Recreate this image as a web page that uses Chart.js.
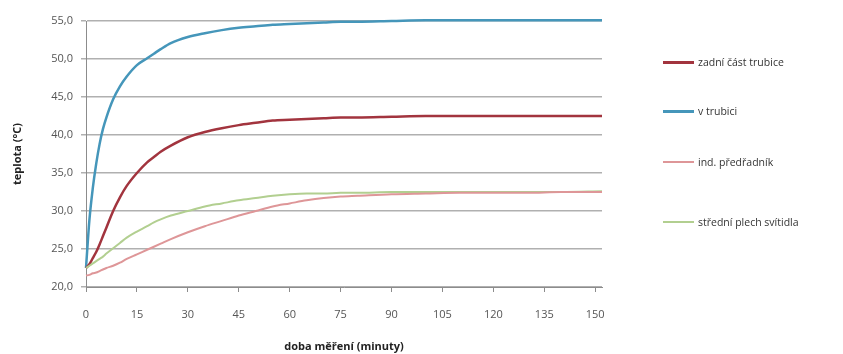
<!DOCTYPE html>
<html>
<head>
<meta charset="utf-8">
<script src="https://cdn.jsdelivr.net/npm/chart.js@4"></script>
<style>
  html, body { margin: 0; padding: 0; background: #fff; }
  #wrap { position: relative; width: 843px; height: 354px; }
  #legend { position: absolute; left: 663px; top: 0; font-family: "Open Sans", "DejaVu Sans", sans-serif; font-size: 10.5px; color: #333; }
  .item { position: absolute; left: 0; white-space: nowrap; display: flex; align-items: center; }
  .swatch { display: inline-block; width: 31px; margin-right: 4px; }
</style>
</head>
<body>
<div id="wrap">
  <canvas id="chart" width="843" height="354"></canvas>
  <div id="legend"></div>
</div>
<script>
// time of measurement, minutes
const minutes = [0, 1, 2, 3, 4, 5, 6, 8, 10, 12, 15, 18, 20, 22, 25, 30, 35, 40, 45, 50, 55, 60, 65, 70, 75, 80, 90, 100, 110, 120, 130, 140, 152];
const xTicks = [0, 15, 30, 45, 60, 75, 90, 105, 120, 135, 150];

const seriesNames = ["zadní část trubice", "v trubici", "ind. předřadník", "střední plech svítidla"];
const seriesColors = ["#a2343e", "#4596ba", "#de9698", "#b2cf90"];
const seriesWidths = [2.5, 2.5, 2, 2];

const backTube = [22.5, 23.0, 23.8, 24.6, 25.6, 26.7, 27.8, 30.0, 31.8, 33.3, 35.0, 36.4, 37.1, 37.8, 38.6, 39.7, 40.4, 40.9, 41.3, 41.6, 41.9, 42.0, 42.1, 42.2, 42.3, 42.3, 42.4, 42.5, 42.5, 42.5, 42.5, 42.5, 42.5];
const inTube = [22.5, 28.8, 33.0, 36.2, 38.8, 40.8, 42.3, 44.7, 46.4, 47.7, 49.2, 50.1, 50.7, 51.3, 52.1, 52.9, 53.4, 53.8, 54.1, 54.3, 54.5, 54.6, 54.7, 54.8, 54.9, 54.9, 55.0, 55.1, 55.1, 55.1, 55.1, 55.1, 55.1];
const ballast = [21.5, 21.6, 21.8, 21.9, 22.1, 22.3, 22.5, 22.8, 23.2, 23.7, 24.3, 24.9, 25.3, 25.7, 26.3, 27.2, 28.0, 28.7, 29.4, 30.0, 30.6, 31.0, 31.4, 31.7, 31.9, 32.0, 32.2, 32.3, 32.4, 32.4, 32.4, 32.5, 32.5];
const midPlate = [22.5, 22.8, 23.1, 23.4, 23.7, 24.0, 24.4, 25.1, 25.8, 26.5, 27.3, 28.0, 28.5, 28.9, 29.4, 30.0, 30.6, 31.0, 31.4, 31.7, 32.0, 32.2, 32.3, 32.3, 32.4, 32.4, 32.5, 32.5, 32.5, 32.5, 32.5, 32.5, 32.6];

const seriesValues = [backTube, inTube, ballast, midPlate];
const legendY = [62, 111, 162, 222];

const xTitle = "doba měření (minuty)";
const yTitle = "teplota (°C)";

const FONT = "'Open Sans', 'DejaVu Sans', sans-serif";

// draw order: pale lines first, then red and blue on top
const drawOrder = [2, 3, 0, 1];

const datasets = drawOrder.map((i) => ({
  label: seriesNames[i],
  data: minutes.map((m, k) => ({ x: m, y: seriesValues[i][k] })),
  borderColor: seriesColors[i],
  backgroundColor: seriesColors[i],
  borderWidth: seriesWidths[i],
  pointRadius: 0,
  cubicInterpolationMode: "monotone",
  clip: false,
}));

new Chart(document.getElementById("chart"), {
  type: "line",
  data: { datasets },
  options: {
    responsive: false,
    animation: false,
    layout: { padding: { top: 21, right: 241, left: 0, bottom: 0 } },
    plugins: { legend: { display: false }, tooltip: { enabled: false } },
    scales: {
      x: {
        type: "linear",
        min: 0,
        max: 152,
        // max 152 would replace the 150 tick, so set the ticks ourselves
        afterBuildTicks: (axis) => { axis.ticks = xTicks.map((v) => ({ value: v })); },
        afterFit: (scale) => { scale.height = 67; },
        ticks: { color: "#555", padding: 16, maxRotation: 0, autoSkip: false, font: { family: FONT, size: 11 } },
        grid: { drawOnChartArea: false, drawTicks: true, tickLength: 5, color: "#8c8c8c" },
        border: { color: "#8c8c8c", width: 1 },
        title: { display: true, text: xTitle, color: "#222", padding: { top: 0, bottom: 1 }, font: { family: FONT, size: 11, weight: "bold" } },
      },
      y: {
        min: 20,
        max: 55,
        afterFit: (scale) => { scale.width = 86; },
        ticks: { stepSize: 5, color: "#555", padding: 8, font: { family: FONT, size: 11 }, callback: (v) => v.toFixed(1).replace(".", ",") },
        grid: { color: "#b0b0b0", lineWidth: 1.5, tickLength: 5 },
        border: { color: "#8c8c8c", width: 1 },
        title: { display: true, text: yTitle, color: "#222", padding: { top: 11, bottom: 0 }, font: { family: FONT, size: 11, weight: "bold" } },
      },
    },
  },
});

// legend on the right
const legend = document.getElementById("legend");
seriesNames.forEach((name, i) => {
  const item = document.createElement("div");
  item.className = "item";
  item.style.top = (legendY[i] - 8) + "px";
  item.style.height = "16px";
  const sw = document.createElement("span");
  sw.className = "swatch";
  sw.style.borderTop = seriesWidths[i] + 0.5 + "px solid " + seriesColors[i];
  item.appendChild(sw);
  item.appendChild(document.createTextNode(name));
  legend.appendChild(item);
});
</script>
</body>
</html>
